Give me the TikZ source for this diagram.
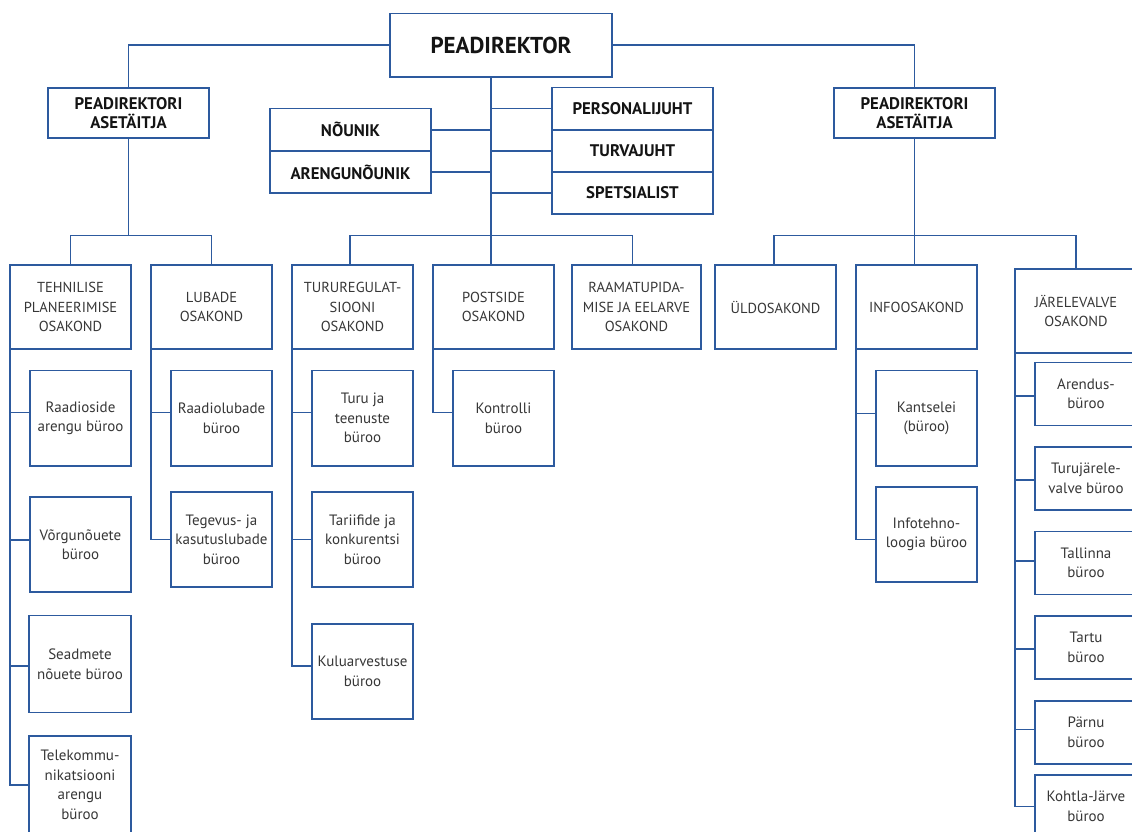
\documentclass[tikz,border=0pt]{standalone}
\usepackage{fontspec}
\setmainfont{PT Sans}
\definecolor{lblue}{RGB}{45,90,158}
\definecolor{tgray}{RGB}{55,55,55}
\definecolor{tdark}{RGB}{20,20,20}
\tikzset{
  conn/.style={draw=lblue, line width=1.5pt},
  box/.style={draw=lblue, line width=1.5pt, fill=white, inner sep=0pt, outer sep=0pt, align=center},
  bbold/.style={box, font=\bfseries\fontsize{16.8}{19.5}\selectfont, text=tdark},
  btitle/.style={box, font=\bfseries\fontsize{23}{26}\selectfont, text=tdark},
  blight/.style={box, font=\fontsize{15}{19.5}\selectfont, text=tgray},
  bcaps/.style={box, font=\fontsize{14.5}{19.5}\selectfont, text=tgray}
}
\newcommand\bx[7]{\node[#6, minimum width={(#4-#2)*1pt}, minimum height={(#5-#3)*1pt}] (#1) at ({(#2+#4)/2},{(#3+#5)/2}) {#7};}
\newcommand\subc[3]{\draw[conn] (#1.south west) |- ([yshift=#3pt]#2.west);}
\begin{document}
\begin{tikzpicture}[x=1pt,y=-1pt]
\useasboundingbox (0,0) rectangle (1132,832);
\clip (0,0) rectangle (1132,832);
% top level
\bx{pd}{390}{13.5}{612}{77}{btitle}{PEADIREKTOR}
\bx{al}{48}{88}{209}{138}{bbold}{PEADIREKTORI\\ASETÄITJA}
\bx{ar}{834}{88}{995}{138}{bbold}{PEADIREKTORI\\ASETÄITJA}
\bx{nou}{270}{108.7}{431}{151}{bbold}{NÕUNIK}
\bx{aren}{270}{151}{431}{193}{bbold}{ARENGUNÕUNIK}
\bx{pers}{552}{87.5}{713}{130}{bbold}{PERSONALIJUHT}
\bx{turv}{552}{130}{713}{172}{bbold}{TURVAJUHT}
\bx{spets}{552}{172}{713}{214}{bbold}{SPETSIALIST}
% departments
\bx{tech}{10}{265}{131}{349}{bcaps}{TEHNILISE\\PLANEERIMISE\\OSAKOND}
\bx{lub}{151}{265}{272}{349}{bcaps}{LUBADE\\OSAKOND}
\bx{turu}{292}{265}{413}{349}{bcaps}{TURUREGULAT-\\SIOONI\\OSAKOND}
\bx{post}{433}{265}{554}{349}{bcaps}{POSTSIDE\\OSAKOND}
\bx{raam}{572}{265}{701}{349}{bcaps}{RAAMATUPIDA-\\MISE JA EELARVE\\OSAKOND}
\bx{uld}{715}{265}{836}{349}{bcaps}{ÜLDOSAKOND}
\bx{info}{856}{265}{977}{349}{bcaps}{INFOOSAKOND}
\bx{jar}{1015}{269}{1137}{353}{bcaps}{JÄRELEVALVE\\OSAKOND}
% bureaus
\bx{t1}{30}{370.5}{131}{466}{blight}{Raadioside\\arengu büroo}
\bx{t2}{30}{497}{131}{592}{blight}{Võrgunõuete\\büroo}
\bx{t3}{29}{615.5}{131}{712.5}{blight}{Seadmete\\nõuete büroo}
\bx{t4}{29}{736}{131}{834}{blight}{Telekommu-\\nikatsiooni\\arengu\\büroo}
\bx{l1}{171}{370.5}{272}{466}{blight}{Raadiolubade\\büroo}
\bx{l2}{171}{492}{272}{587}{blight}{Tegevus- ja\\kasutuslubade\\büroo}
\bx{u1}{312}{370.5}{413}{466}{blight}{Turu ja\\teenuste\\büroo}
\bx{u2}{312}{492}{413}{587}{blight}{Tariifide ja\\konkurentsi\\büroo}
\bx{u3}{312}{624}{413}{719}{blight}{Kuluarvestuse\\büroo}
\bx{p1}{453}{370.5}{554}{466}{blight}{Kontrolli\\büroo}
\bx{i1}{876}{370.5}{977}{466}{blight}{Kantselei\\(büroo)}
\bx{i2}{876}{487}{977}{582}{blight}{Infotehno-\\loogia büroo}
\bx{j1}{1035}{362.5}{1137}{425.5}{blight}{Arendus-\\büroo}
\bx{j2}{1035}{447}{1137}{510}{blight}{Turujärele-\\valve büroo}
\bx{j3}{1035}{531.5}{1137}{594.5}{blight}{Tallinna\\büroo}
\bx{j4}{1035}{616}{1137}{679}{blight}{Tartu\\büroo}
\bx{j5}{1035}{701}{1137}{764}{blight}{Pärnu\\büroo}
\bx{j6}{1035}{775}{1137}{838}{blight}{Kohtla-Järve\\büroo}
% coordinates
\coordinate (ctop) at (491,77);
\coordinate (cbus) at (491,235.5);
\coordinate (lbus) at (128.5,235.5);
\coordinate (rbus) at (914.5,235.5);
% top connectors
\draw[conn] (pd.west) -| (al.north);
\draw[conn] (pd.east) -| (ar.north);
\draw[conn] (ctop) -- (ctop |- post.north);
\draw[conn] (nou.east) -- (nou.east -| ctop);
\draw[conn] (aren.east) -- (aren.east -| ctop);
\draw[conn] (pers.west) -- (pers.west -| ctop);
\draw[conn] (turv.west) -- (turv.west -| ctop);
\draw[conn] (spets.west) -- (spets.west -| ctop);
% buses
\draw[conn] (al.south) -- (lbus);
\draw[conn] (tech.north) |- (lbus) -| (lub.north);
\draw[conn] ([xshift=-2.3pt]turu.north) |- (cbus) -| ([xshift=-4pt]raam.north);
\draw[conn] (ar.south) -- (rbus);
\draw[conn] ([xshift=-1.5pt]uld.north) |- (rbus) -| (jar.north);
\draw[conn] (rbus) -- (rbus |- info.north);
% bureau connectors
\subc{tech}{t1}{6}
\subc{tech}{t2}{4.5}
\subc{tech}{t3}{-2}
\subc{tech}{t4}{0}
\subc{lub}{l1}{6}
\subc{lub}{l2}{0}
\subc{turu}{u1}{6}
\subc{turu}{u2}{0}
\subc{turu}{u3}{5.5}
\subc{post}{p1}{6}
\subc{info}{i1}{5}
\subc{info}{i2}{-5}
\subc{jar}{j1}{-2}
\subc{jar}{j2}{-1.5}
\subc{jar}{j3}{2}
\subc{jar}{j4}{-1.5}
\subc{jar}{j5}{3}
\subc{jar}{j6}{0}
\end{tikzpicture}
\end{document}
